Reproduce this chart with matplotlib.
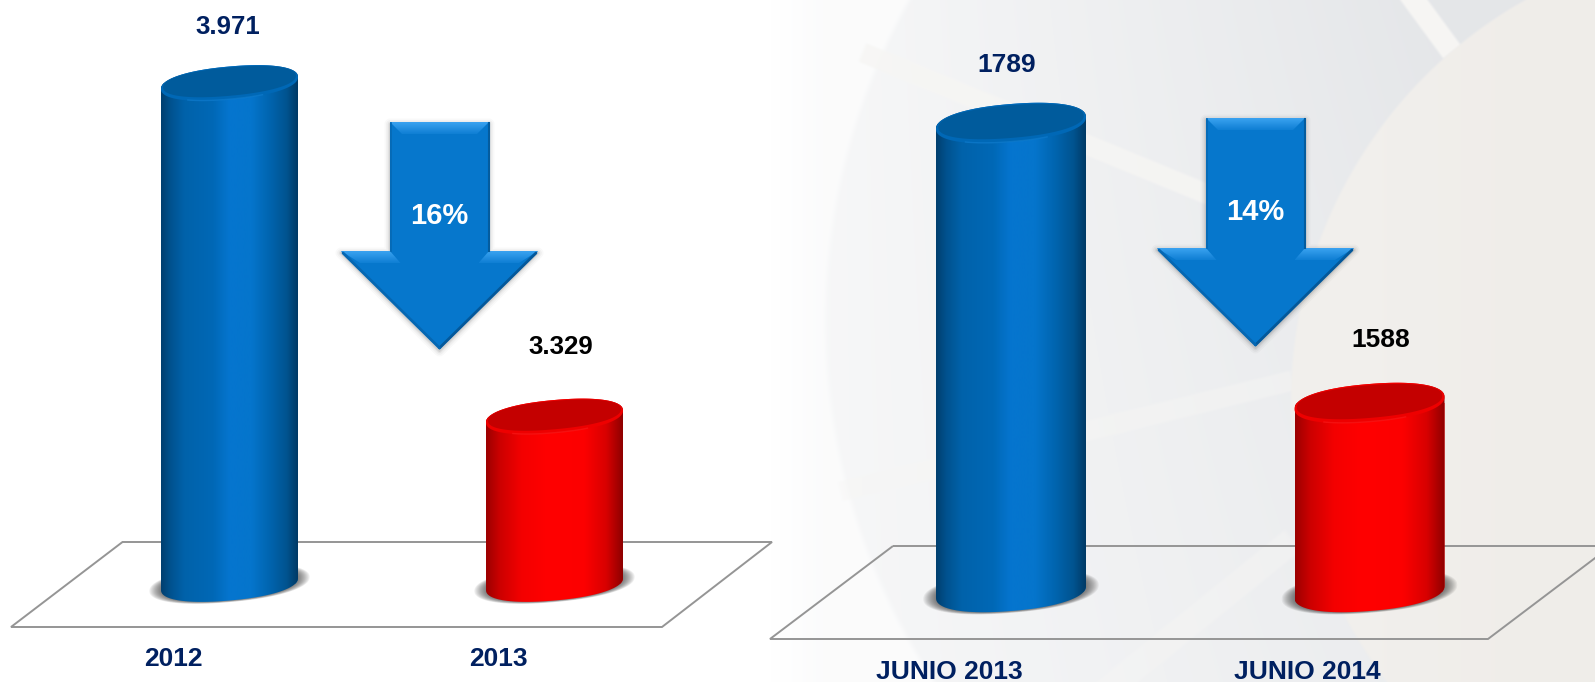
import numpy as np
import matplotlib
matplotlib.use("Agg")
import matplotlib.pyplot as plt
from matplotlib.patches import Polygon, PathPatch
from matplotlib.path import Path
from matplotlib.colors import LinearSegmentedColormap

# ---------- data ----------
left_categories = ["2012", "2013"]
left_values = [3971, 3329]
left_labels = ["3.971", "3.329"]
left_change = "16%"

right_categories = ["JUNIO 2013", "JUNIO 2014"]
right_values = [1789, 1588]
right_labels = ["1789", "1588"]
right_change = "14%"

# ---------- layout (pixels of the 1595x682 canvas) ----------
W, H = 1595, 682
NAVY = "#002060"
FONT = "Liberation Sans"
plt.rcParams["font.family"] = [FONT, "DejaVu Sans"]

BLUE = LinearSegmentedColormap.from_list("b", [(0, "#013f6f"), (.07, "#00528f"), (.17, "#0062aa"), (.38, "#0068b6"),
                                               (.50, "#0575cf"), (.66, "#0575cc"), (.80, "#0064ae"), (.92, "#00538f"),
                                               (1, "#003a66")])
RED = LinearSegmentedColormap.from_list("r", [(0, "#9c0000"), (.10, "#cc0000"), (.26, "#f40000"),
                                              (.45, "#ff0000"), (.72, "#fc0000"), (.88, "#d80000"), (1, "#8e0000")])
PALETTE = [(BLUE, "#0068b6", "#005b9c", "#1b8ade"), (RED, "#ee0000", "#c40000", "#ff2a2a")]

fig = plt.figure(figsize=(W / 100, H / 100), dpi=100, facecolor="white")


def smooth(a, b, v):
    t = np.clip((v - a) / (b - a), 0, 1)
    return t * t * (3 - 2 * t)


def band(xx, yy, p, q, half):
    p, q = np.array(p, float), np.array(q, float)
    d = q - p
    L = np.hypot(*d)
    u = ((xx - p[0]) * d[0] + (yy - p[1]) * d[1]) / L
    v = np.abs((xx - p[0]) * d[1] - (yy - p[1]) * d[0]) / L
    return (1 - smooth(half - 2, half + 2, v)) * smooth(-3, 3, u) * smooth(-3, 3, L - u)


# ---------- backdrop ----------
bg = fig.add_axes([0, 0, 1, 1], zorder=0)
bg.set_xlim(0, W)
bg.set_ylim(H, 0)
bg.axis("off")
yy, xx = np.mgrid[0:H, 0:W].astype(float)
cool = np.array([.895, .902, .912])
warm = np.array([.940, .930, .915])
light = np.array([.966, .963, .955])
disc = smooth(-4, 4, 655 - np.hypot(xx - 1480, yy - 320))
ramp = np.clip((xx - 830) / 620, 0, 1) * (1 - 0.35 * yy / H)
amount = disc * (0.32 + 0.68 * ramp) + (1 - disc) * 0.14 * smooth(770, 830, xx)
img = 1 + (cool - 1) * amount[..., None]
for p, q, h, s in [((862, 52), (1210, 195), 10, .8), ((840, 491), (1292, 380), 10, .45),
                   ((1408, -8), (1452, 52), 11, 1.0), ((1100, 695), (1292, 540), 13, .4)]:
    b = (band(xx, yy, p, q, h) * s)[..., None]
    img = img * (1 - b) + light * b
wm = smooth(-2, 2, 459.5 - np.hypot(xx - 1750, yy - 400))
warm_field = warm + (np.array([.950, .944, .935]) - warm) * (1 - smooth(1330, 1560, xx))[..., None] * .6
img = img * (1 - wm[..., None]) + warm_field * wm[..., None]
bg.imshow(img, extent=(0, W, H, 0), aspect="auto", zorder=0, interpolation="bilinear")

for pts in ([(122.5, 542), (772, 542), (662, 627), (11, 627)],
            [(893, 546), (1611, 546), (1488, 639), (770, 639)]):
    bg.add_patch(Polygon(pts, closed=True, fill=False, edgecolor="#959595", lw=1.4, zorder=1, joinstyle="miter"))


# ---------- cylinders ----------
def panel(values, labels, cats, x_px, y_px, px_span, half_w, ry, tilt,
          value_offsets, value_colors, value_sizes, cat_offsets, cat_y, cat_size):
    """x_px: pixel centres of bars 0 and 1; y_px: pixel heights of both value tops and of the baseline."""
    ax = fig.add_axes([px_span[0] / W, 0, (px_span[1] - px_span[0]) / W, 1], zorder=1)
    ax.patch.set_alpha(0)
    ax.axis("off")
    sx = x_px[1] - x_px[0]
    sy = (values[0] - values[1]) / (y_px[1] - y_px[0])
    xlim = ((px_span[0] - x_px[0]) / sx, (px_span[1] - x_px[0]) / sx)
    ylim = (values[1] - (H - y_px[1]) * sy, values[1] + y_px[1] * sy)
    ax.set_xlim(*xlim)
    ax.set_ylim(*ylim)
    base = values[1] - (y_px[2] - y_px[1]) * sy
    a = half_w / sx
    bars = ax.bar(range(len(values)), np.array(values) - base, bottom=base, width=2 * a, zorder=3,
                  color=[p[1] for p in PALETTE], linewidth=0)

    def ell(cx, cy, t, fa=1.0, fb=1.0, shift=0.0, p=0.9):
        c, s = np.cos(t), np.sin(t)
        ex = np.sign(c) * np.abs(c) ** p
        ey = np.sign(s) * np.abs(s) ** p
        return np.column_stack([cx + fa * a * ex,
                                cy + sy * (shift + fb * ry * ey + fa * tilt * ex)])

    for i, (v, b) in enumerate(zip(values, bars)):
        cmap, rim, cap, hi = PALETTE[i]
        for f in np.linspace(1.17, 1.0, 12):       # soft ground shadow
            ax.fill(*ell(i, base, np.linspace(0, 2 * np.pi, 80), f, 1 + (f - 1) * .6).T, color="#2a2a2a",
                    alpha=0.07, lw=0, zorder=2)
        top = ell(i, v, np.linspace(0, np.pi, 60))
        low = ell(i, base, np.linspace(np.pi, 2 * np.pi, 60))
        outline = np.vstack([top, low, top[:1]])
        body = PathPatch(Path(outline), transform=ax.transData, facecolor="none", edgecolor="none")
        ax.add_patch(body)
        b.set_clip_path(body)
        im = ax.imshow(np.linspace(0, 1, 256)[None, :], cmap=cmap, aspect="auto", zorder=3.5,
                       extent=(i - a, i + a, base - 30 * sy, v + 40 * sy), interpolation="bilinear")
        im.set_clip_path(body)
        t = np.linspace(0, 2 * np.pi, 160)
        ax.fill(*ell(i, v, t).T, color=rim, lw=0, zorder=4)
        ax.fill(*ell(i, v, t, 0.97, 0.86, 1.4).T, color=cap, lw=0, zorder=4.1)
        ax.plot(*ell(i, v, np.linspace(1.3 * np.pi, 1.65 * np.pi, 40), .98, .98).T, color=hi, lw=1.0,
                alpha=.4, zorder=4.2)
        dx, dy = value_offsets[i]
        ax.annotate(labels[i], xy=(i, v), xytext=(dx * .72, -dy * .72), textcoords="offset points",
                    ha="center", va="baseline", fontsize=value_sizes[i], fontweight="bold",
                    color=value_colors[i], zorder=6)
        ax.annotate(cats[i], xy=(i, base), xytext=(cat_offsets[i] * .72, -(cat_y - y_px[2]) * .72),
                    textcoords="offset points", ha="center", va="baseline", fontsize=cat_size,
                    fontweight="bold", color=NAVY, zorder=6)
    ax.set_xlim(*xlim)
    ax.set_ylim(*ylim)
    return ax


panel(left_values, left_labels, left_categories, (229.5, 554.5), (83, 416.5, 584), (0, 800),
      68.5, 16.5, 6, [(-2, -49), (6, -62.5)], [NAVY, "black"], [18.6, 18.6], [-56, -56], 666, 19)
panel(right_values, right_labels, right_categories, (1011, 1369.5), (123, 403, 592), (770, 1595),
      75, 19, 6, [(-4.5, -51), (11.5, -56)], [NAVY, "black"], [19, 19], [-62, -62.5], 679, 19)


# ---------- arrows ----------
over = fig.add_axes([0, 0, 1, 1], zorder=2)
over.set_xlim(0, W)
over.set_ylim(H, 0)
over.axis("off")


def grad_poly(pts, c0, c1, y0, y1):
    lc = LinearSegmentedColormap.from_list("g", [c0, c1])
    patch = Polygon(pts, closed=True, facecolor="none", edgecolor="none", zorder=3)
    over.add_patch(patch)
    xs = [p[0] for p in pts]
    im = over.imshow(np.linspace(0, 1, 32)[:, None], cmap=lc, aspect="auto", zorder=3,
                     extent=(min(xs), max(xs), y1, y0), interpolation="bilinear", origin="upper")
    im.set_clip_path(patch)


def arrow(cx, y0, yh, tip, text, text_y):
    sw, hw = 49.5, 98.5
    shape = [(cx - sw, y0), (cx + sw, y0), (cx + sw, yh), (cx + hw, yh), (cx, tip),
             (cx - hw, yh), (cx - sw, yh)]
    sh = [(x, y + 2) for x, y in shape]
    for lw, al in [(8, .022), (5.5, .035), (3.2, .05), (1.5, .07)]:
        over.add_patch(Polygon(sh, closed=True, fill=False, edgecolor="black", alpha=al, lw=lw,
                               joinstyle="round", zorder=1))
    over.add_patch(Polygon(shape, closed=True, facecolor="#0677cc", edgecolor="none", zorder=2))
    # bevels
    grad_poly([(cx - sw, y0), (cx + sw, y0), (cx + sw - 12, y0 + 12), (cx - sw + 12, y0 + 12)],
              "#3aa2f0", "#0f7fd4", y0, y0 + 12)
    grad_poly([(cx - hw, yh), (cx - sw, yh), (cx - sw + 10.5, yh + 12), (cx - hw + 19, yh + 12)],
              "#3aa2f0", "#0f7fd4", yh, yh + 12)
    grad_poly([(cx + hw, yh), (cx + sw, yh), (cx + sw - 10.5, yh + 12), (cx + hw - 19, yh + 12)],
              "#3aa2f0", "#0f7fd4", yh, yh + 12)
    over.plot([cx + hw - 2, cx], [yh + 2, tip - 1], color="#04589a", lw=2.0, solid_capstyle="round", zorder=4)
    over.plot([cx - hw + 2, cx], [yh + 2, tip - 1], color="#0567b2", lw=2.0, solid_capstyle="round", zorder=4)
    over.plot([cx + sw - .5, cx + sw - .5], [y0 + 1, yh], color="#045c9e", lw=1.5, zorder=4)
    over.plot([cx - sw + .5, cx - sw + .5], [y0 + 1, yh], color="#0569b4", lw=1.2, zorder=4)
    over.text(cx, text_y + 10.5, text, color="white", fontsize=21, fontweight="bold", ha="center",
              va="baseline", zorder=5)


arrow(439.5, 122, 251, 349, left_change, 213)
arrow(1255.5, 118, 248, 346, right_change, 209)
over.set_xlim(0, W)
over.set_ylim(H, 0)

fig.savefig("out.png", dpi=100)
